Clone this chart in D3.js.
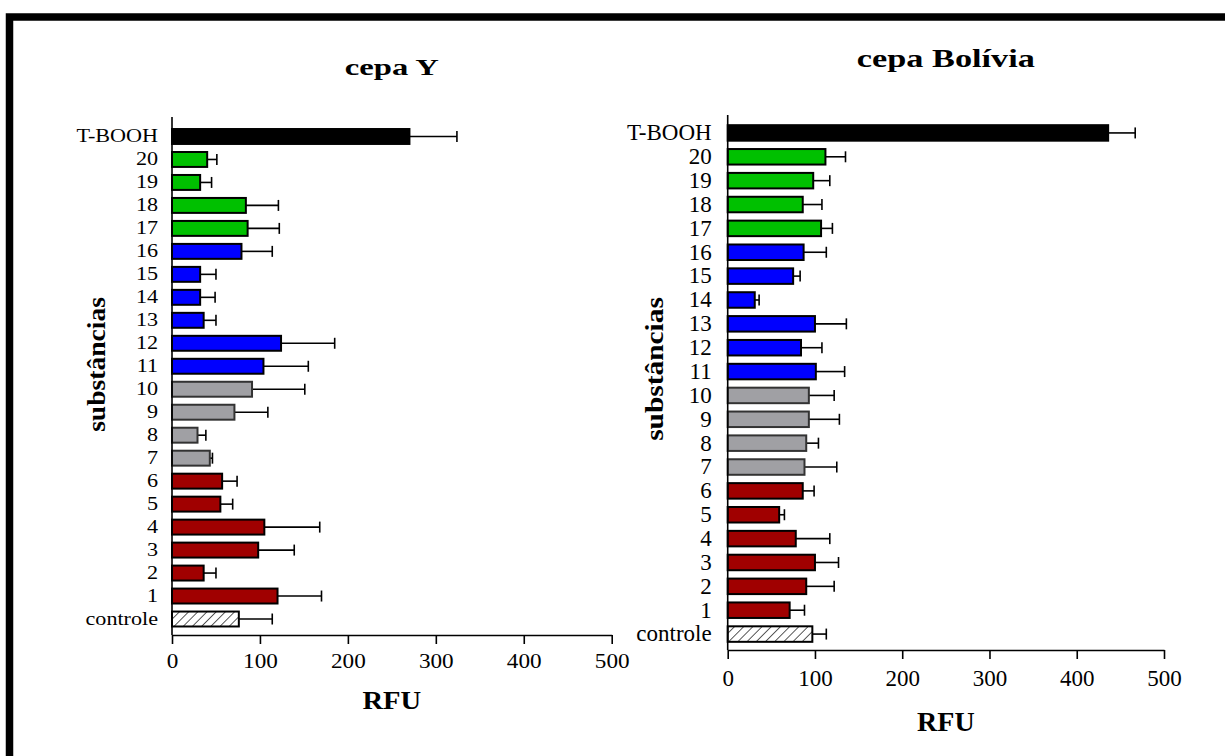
<!DOCTYPE html>
<html lang="pt">
<head>
<meta charset="UTF-8">
<title>cepa Y / cepa Bolívia</title>
<script src="https://d3js.org/d3.v7.min.js"></script>
<style>
  body { margin: 0; background: #fff; }
  svg text { font-family: "Liberation Serif", "Times New Roman", serif; fill: #000; }
</style>
</head>
<body>
<script>
// categories from bottom (controle) to top (T-BOOH)
const categories = ["controle", "1", "2", "3", "4", "5", "6", "7", "8", "9", "10",
  "11", "12", "13", "14", "15", "16", "17", "18", "19", "20", "T-BOOH"];
const groups = ["controle", "A", "A", "A", "A", "A", "A", "B", "B", "B", "B",
  "C", "C", "C", "C", "C", "C", "D", "D", "D", "D", "T-BOOH"];

// cepa Y
const cepaYMeans = [76, 120, 36, 98, 105, 55, 57, 43, 29, 71, 91,
  104, 124, 36, 32, 32, 79, 86, 84, 32, 40, 270];
const cepaYErrors = [38, 50, 14, 41, 63, 14, 17, 3, 9.5, 38, 60,
  51, 61, 14, 17, 18, 35, 36, 37, 13, 11, 54];

// cepa Bolívia
const bolMeans = [97, 71, 90, 100, 78, 59, 86, 88, 90, 93, 93,
  101, 84, 100, 31, 75, 87, 107, 86, 98, 112, 436];
const bolErrors = [16, 17, 32, 27, 39, 6, 13, 37, 14, 35, 29,
  33, 24, 36, 5, 8, 26, 13, 22, 19, 23, 31];

const xTicks = [0, 100, 200, 300, 400, 500];

const width = 1225;
const height = 756;
const svg = d3.select("body").append("svg")
  .attr("width", width)
  .attr("height", height);

// hatch for controle
svg.append("defs").append("pattern")
  .attr("id", "hatch")
  .attr("patternUnits", "userSpaceOnUse")
  .attr("width", 6.5)
  .attr("height", 6.5)
  .attr("patternTransform", "rotate(45)")
  .call(p => {
    p.append("rect").attr("width", 6.5).attr("height", 6.5).attr("fill", "#fff");
    p.append("line").attr("x1", 0).attr("y1", 0).attr("x2", 0).attr("y2", 6.5)
      .attr("stroke", "#000").attr("stroke-width", 1.3);
  });

// outer frame (runs off the right / bottom edge)
svg.append("rect")
  .attr("x", 9.5).attr("y", 17)
  .attr("width", 1400).attr("height", 900)
  .attr("fill", "none")
  .attr("stroke", "#000")
  .attr("stroke-width", 7.5);

const color = d3.scaleOrdinal()
  .domain(["A", "B", "C", "D", "T-BOOH", "controle"])
  .range(["#a00000", "#a0a0a4", "#0000ff", "#00c000", "#000000", "url(#hatch)"]);

// stretch a text horizontally around its anchor point
function stretch(sel, sx) {
  sel.each(function () {
    const t = d3.select(this);
    const x = +t.attr("x") || 0;
    const y = +t.attr("y") || 0;
    t.attr("x", 0).attr("y", 0)
      .attr("transform", `translate(${x},${y}) scale(${sx},1)`);
  });
}

function drawPanel(p, means, errors) {
  const x = d3.scaleLinear().domain([0, 500]).range([p.x0, p.x1]);
  const y = d3.scaleBand()
    .domain(categories.slice().reverse())
    .range([p.y0, p.y1])
    .paddingInner(0.35)
    .paddingOuter(0.175);

  const rows = categories.map((c, i) => ({ c: c, g: groups[i], v: means[i], e: errors[i] }));
  const g = svg.append("g");

  // error bars
  const err = g.append("g").attr("stroke", "#000").attr("stroke-width", 1.6);
  err.selectAll("line.whisker").data(rows).join("line")
    .attr("class", "whisker")
    .attr("x1", d => x(d.v)).attr("x2", d => x(d.v + d.e))
    .attr("y1", d => y(d.c) + y.bandwidth() / 2)
    .attr("y2", d => y(d.c) + y.bandwidth() / 2);
  err.selectAll("line.cap").data(rows).join("line")
    .attr("class", "cap")
    .attr("x1", d => x(d.v + d.e)).attr("x2", d => x(d.v + d.e))
    .attr("y1", d => y(d.c) + y.bandwidth() / 2 - p.cap)
    .attr("y2", d => y(d.c) + y.bandwidth() / 2 + p.cap);

  // bars
  g.selectAll("rect.bar").data(rows).join("rect")
    .attr("class", "bar")
    .attr("x", x(0))
    .attr("y", d => y(d.c))
    .attr("width", d => x(d.v) - x(0))
    .attr("height", y.bandwidth())
    .attr("fill", d => color(d.g))
    .attr("stroke", d => d.g === "B" ? "#333" : "#000")
    .attr("stroke-width", 2);

  // y axis
  const ya = g.append("g")
    .attr("transform", `translate(${x(0)},0)`)
    .call(d3.axisLeft(y).tickSize(0).tickPadding(p.yPad));
  ya.select(".domain").remove();
  ya.append("line")
    .attr("x1", 0).attr("x2", 0)
    .attr("y1", p.axisTop).attr("y2", p.axisBottom)
    .attr("stroke", "#000").attr("stroke-width", 1.6);
  ya.attr("font-size", p.yFont);
  stretch(ya.selectAll("text"), p.ySx);

  // x axis
  const xa = g.append("g")
    .attr("transform", `translate(0,${p.axisBottom})`)
    .call(d3.axisBottom(x).tickValues(xTicks).tickSize(p.tick).tickSizeOuter(0).tickPadding(p.xPad));
  xa.select(".domain").attr("stroke-width", 1.6);
  xa.selectAll(".tick line").attr("stroke-width", 1.6);
  xa.attr("font-size", p.xFont);
  stretch(xa.selectAll("text"), p.xSx);

  // title
  svg.append("text")
    .attr("text-anchor", "middle")
    .attr("font-weight", "bold")
    .attr("font-size", p.titleFont)
    .attr("transform", `translate(${(p.x0 + p.x1) / 2},${p.titleY}) scale(${p.titleSx},1)`)
    .text(p.title);

  // x label
  svg.append("text")
    .attr("text-anchor", "middle")
    .attr("font-weight", "bold")
    .attr("font-size", p.rfuFont)
    .attr("transform", `translate(${(p.x0 + p.x1) / 2},${p.rfuY}) scale(${p.rfuSx},1)`)
    .text("RFU");

  // y label
  svg.append("text")
    .attr("text-anchor", "middle")
    .attr("font-weight", "bold")
    .attr("font-size", p.subFont)
    .attr("transform", `translate(${p.subX},${p.subY}) rotate(-90) scale(${p.subSx},1)`)
    .text("substâncias");
}

drawPanel({
  title: "cepa Y", titleFont: 23, titleSx: 1.42, titleY: 75,
  x0: 172, x1: 611.7, y0: 125, y1: 630.5, axisTop: 117, axisBottom: 635,
  cap: 5.5, yPad: 14, yFont: 18, ySx: 1.23,
  tick: 9, xPad: 10, xFont: 20, xSx: 1.16,
  rfuFont: 26, rfuSx: 1.1, rfuY: 709,
  subFont: 26, subSx: 1.06, subX: 105, subY: 364.5
}, cepaYMeans, cepaYErrors);

drawPanel({
  title: "cepa Bolívia", titleFont: 24.5, titleSx: 1.4, titleY: 67,
  x0: 727.7, x1: 1164, y0: 121, y1: 646, axisTop: 115, axisBottom: 650,
  cap: 5.5, yPad: 16, yFont: 23, ySx: 1,
  tick: 9, xPad: 11, xFont: 23, xSx: 1,
  rfuFont: 28, rfuSx: 1, rfuY: 731,
  subFont: 26, subSx: 1.13, subX: 663, subY: 369
}, bolMeans, bolErrors);
</script>
</body>
</html>
